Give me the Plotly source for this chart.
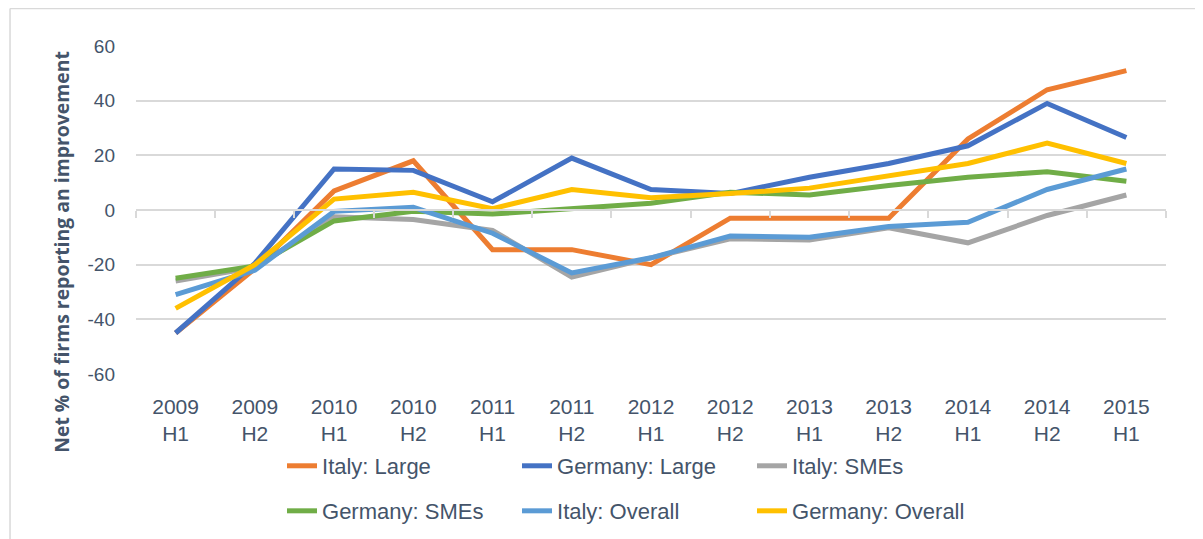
import plotly.graph_objects as go

# ─── Data ────────────────────────────────────────────────────────────────────
periods = ["2009<br>H1", "2009<br>H2", "2010<br>H1", "2010<br>H2", "2011<br>H1",
           "2011<br>H2", "2012<br>H1", "2012<br>H2", "2013<br>H1", "2013<br>H2",
           "2014<br>H1", "2014<br>H2", "2015<br>H1"]

italy_large     = [-45, -21.5, 7, 18, -14.5, -14.5, -20, -3, -3, -3, 26, 44, 51]
germany_large   = [-45, -19.5, 15, 14.5, 3, 19, 7.5, 6, 12, 17, 23.5, 39, 26.5]
italy_smes      = [-26, -21, -2.5, -3.5, -7.5, -24.5, -17.5, -10.5, -11, -6.5, -12, -2, 5.5]
germany_smes    = [-25, -20.5, -4, -0.5, -1.5, 0.5, 2.5, 6.5, 5.5, 9, 12, 14, 10.5]
italy_overall   = [-31, -22, -0.5, 1, -8.5, -23, -17.5, -9.5, -10, -6, -4.5, 7.5, 15]
germany_overall = [-36, -20, 4, 6.5, 0.5, 7.5, 4.5, 6, 8, 12.5, 17, 24.5, 17]

y_ticks  = [-60, -40, -20, 0, 20, 40, 60]
y_labels = ["-60", "-40", "-20", "0", "20", "40", "60"]

series = [
    ("Italy: Large",      italy_large,     "#ED7D31", "legend"),
    ("Germany: Large",    germany_large,   "#4472C4", "legend"),
    ("Italy: SMEs",       italy_smes,      "#A5A5A5", "legend"),
    ("Germany: SMEs",     germany_smes,    "#70AD47", "legend2"),
    ("Italy: Overall",    italy_overall,   "#5B9BD5", "legend2"),
    ("Germany: Overall",  germany_overall, "#FFC000", "legend2"),
]

TEXT = "#44546A"
GRID = "#D9D9D9"
FONT = "Liberation Sans, Arial, sans-serif"

# page body has an 8px margin, so the figure is 8px smaller and margins shifted
fig = go.Figure()
for name, vals, color, leg in series:
    fig.add_trace(go.Scatter(
        x=periods, y=vals, mode="lines", name=name,
        line=dict(color=color, width=5),
        legend=leg,
    ))

# axis line at y = 0 with category boundary ticks
fig.add_trace(go.Scatter(
    x=periods, y=[None] * len(periods), xaxis="x2",
    showlegend=False, hoverinfo="skip",
))

legend_style = dict(
    orientation="h", xref="container", yref="container",
    xanchor="left", yanchor="middle",
    entrywidth=190, entrywidthmode="pixels",
    font=dict(size=22, color=TEXT), bgcolor="rgba(0,0,0,0)",
)

fig.update_layout(
    width=1195, height=531,
    margin=dict(l=128, r=37, t=38, b=165, autoexpand=False),
    paper_bgcolor="white", plot_bgcolor="white",
    font=dict(family=FONT, color=TEXT),
    xaxis=dict(
        type="category", range=[-0.5, 12.5],
        showgrid=False, showline=False, zeroline=False, ticks="",
        tickfont=dict(size=21, color=TEXT), ticklabelstandoff=18,
    ),
    xaxis2=dict(
        type="category", range=[-0.5, 12.5],
        overlaying="x", anchor="free", position=0.5,
        showline=True, linecolor=GRID, linewidth=1.5,
        ticks="outside", tickson="boundaries", ticklen=7, tickcolor=GRID, tickwidth=1.5,
        showticklabels=False, showgrid=False, zeroline=False,
    ),
    yaxis=dict(
        range=[-60, 60], tickvals=y_ticks, ticktext=y_labels,
        showline=False, zeroline=False,
        gridcolor=GRID, gridwidth=1.5,
        tickfont=dict(size=19, color=TEXT), ticklabelstandoff=20,
    ),
    legend=dict(legend_style, x=0.2293, y=0.1375),
    legend2=dict(legend_style, x=0.2293, y=0.0527),
    annotations=[dict(
        text="<b>Net % of firms reporting an improvement</b>",
        xref="paper", yref="paper", x=-0.072, y=0.372,
        xanchor="center", yanchor="middle",
        textangle=-90, showarrow=False,
        font=dict(size=19.4, color=TEXT, family="Open Sans, Liberation Sans, sans-serif"),
    )],
    shapes=[
        dict(type="line", xref="paper", yref="paper", x0=-0.1223, x1=1.04, y0=1.114, y1=1.114,
             line=dict(color=GRID, width=1.5)),
        dict(type="line", xref="paper", yref="paper", x0=-0.1223, x1=-0.1223, y0=1.114, y1=-0.52,
             line=dict(color=GRID, width=1.5)),
    ],
)

fig.write_html("out.html")
